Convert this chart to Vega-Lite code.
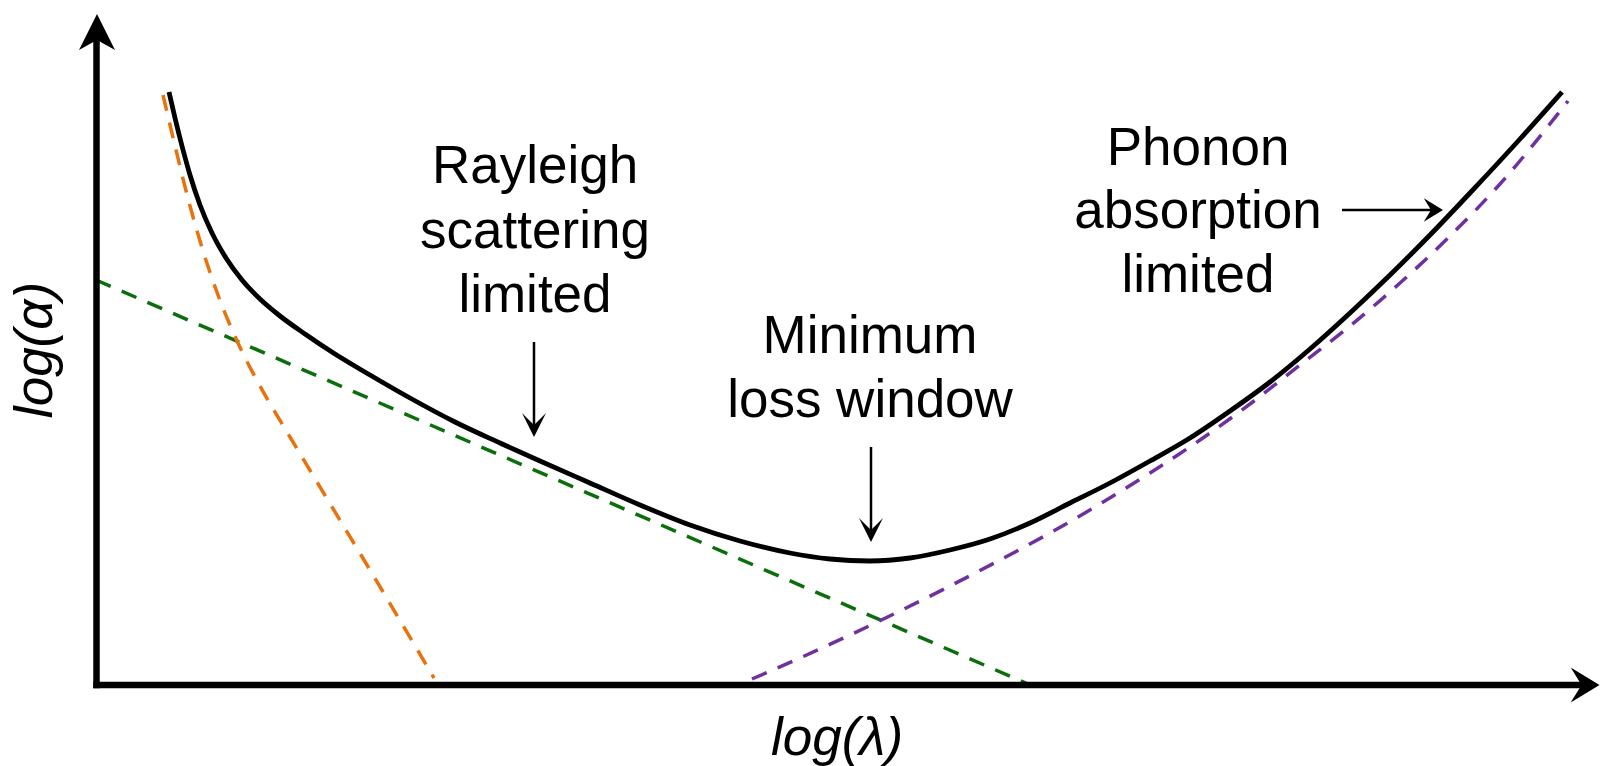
{
  "$schema": "https://vega.github.io/schema/vega-lite/v6.json",
  "width": 1600,
  "height": 766,
  "autosize": {"type": "none"},
  "padding": 0,
  "background": "white",
  "config": {"view": {"stroke": null}},
  "datasets": {
    "green": [{"x": 96, "y": 486}, {"x": 1028, "y": 82}],
    "orange": [
      {"x": 163, "y": 671}, {"x": 176, "y": 616}, {"x": 190, "y": 560}, {"x": 204, "y": 512},
      {"x": 218, "y": 471}, {"x": 238, "y": 423}, {"x": 260, "y": 380}, {"x": 290, "y": 329},
      {"x": 323, "y": 274}, {"x": 373, "y": 191}, {"x": 434, "y": 88}
    ],
    "purple": [
      {"x": 752, "y": 87}, {"x": 800, "y": 108}, {"x": 850, "y": 131}, {"x": 900, "y": 155},
      {"x": 950, "y": 180}, {"x": 1000, "y": 206}, {"x": 1050, "y": 233}, {"x": 1100, "y": 262},
      {"x": 1150, "y": 293}, {"x": 1200, "y": 326}, {"x": 1250, "y": 362}, {"x": 1300, "y": 401},
      {"x": 1350, "y": 440}, {"x": 1400, "y": 483}, {"x": 1450, "y": 530}, {"x": 1500, "y": 582},
      {"x": 1568, "y": 665}
    ],
    "total": [
      {"x": 169, "y": 674}, {"x": 175, "y": 648}, {"x": 182, "y": 620}, {"x": 190, "y": 591},
      {"x": 200, "y": 561}, {"x": 212, "y": 533}, {"x": 226, "y": 508}, {"x": 242, "y": 486},
      {"x": 260, "y": 467}, {"x": 280, "y": 450}, {"x": 305, "y": 432}, {"x": 335, "y": 412},
      {"x": 370, "y": 391}, {"x": 410, "y": 368}, {"x": 455, "y": 344}, {"x": 500, "y": 323},
      {"x": 540, "y": 305}, {"x": 590, "y": 283}, {"x": 640, "y": 261}, {"x": 690, "y": 241},
      {"x": 740, "y": 225}, {"x": 790, "y": 213}, {"x": 830, "y": 207}, {"x": 870, "y": 205},
      {"x": 910, "y": 208}, {"x": 950, "y": 216}, {"x": 990, "y": 227}, {"x": 1030, "y": 243},
      {"x": 1070, "y": 263}, {"x": 1110, "y": 283}, {"x": 1150, "y": 305}, {"x": 1190, "y": 328},
      {"x": 1230, "y": 355}, {"x": 1270, "y": 384}, {"x": 1310, "y": 417}, {"x": 1350, "y": 453},
      {"x": 1390, "y": 491}, {"x": 1430, "y": 531}, {"x": 1470, "y": 573}, {"x": 1520, "y": 627},
      {"x": 1562, "y": 674}
    ],
    "axes": [
      {"x": 96.5, "y": 81, "x2": 96.5, "y2": 728},
      {"x": 96.5, "y": 81, "x2": 1580, "y2": 81}
    ],
    "axisHeads": [
      {"x": 97, "y": 734, "dir": "up"},
      {"x": 1581.5, "y": 81, "dir": "right"}
    ],
    "pointers": [
      {"x": 534, "y": 424, "x2": 534, "y2": 340},
      {"x": 871, "y": 319, "x2": 871, "y2": 235},
      {"x": 1342, "y": 556, "x2": 1432, "y2": 556}
    ],
    "pointerHeads": [
      {"x": 534, "y": 341, "dir": "down"},
      {"x": 871, "y": 236, "dir": "down"},
      {"x": 1431, "y": 556, "dir": "right"}
    ],
    "labels": [
      {"x": 535, "y": 583, "text": "Rayleigh"},
      {"x": 535, "y": 518, "text": "scattering"},
      {"x": 535, "y": 454, "text": "limited"},
      {"x": 870, "y": 413, "text": "Minimum"},
      {"x": 870, "y": 349, "text": "loss window"},
      {"x": 1198, "y": 601, "text": "Phonon"},
      {"x": 1198, "y": 538, "text": "absorption"},
      {"x": 1198, "y": 474, "text": "limited"}
    ],
    "xTitle": [{"x": 837, "y": 11, "text": "log(λ)"}],
    "yTitle": [{"x": 52, "y": 416, "text": "log(α)"}]
  },
  "layer": [
    {
      "data": {"name": "green"},
      "mark": {"type": "line", "color": "#0A6E0A", "strokeWidth": 3.5, "strokeDash": [16, 12]},
      "encoding": {
        "x": {"field": "x", "type": "quantitative", "scale": {"domain": [0, 1600], "nice": false, "zero": false}, "axis": null},
        "y": {"field": "y", "type": "quantitative", "scale": {"domain": [0, 766], "nice": false, "zero": false}, "axis": null}
      }
    },
    {
      "data": {"name": "orange"},
      "mark": {"type": "line", "color": "#E8730E", "strokeWidth": 3.5, "strokeDash": [16, 12], "interpolate": "monotone"},
      "encoding": {
        "x": {"field": "x", "type": "quantitative"},
        "y": {"field": "y", "type": "quantitative"}
      }
    },
    {
      "data": {"name": "purple"},
      "mark": {"type": "line", "color": "#7030A0", "strokeWidth": 3.5, "strokeDash": [16, 12], "interpolate": "monotone"},
      "encoding": {
        "x": {"field": "x", "type": "quantitative"},
        "y": {"field": "y", "type": "quantitative"}
      }
    },
    {
      "data": {"name": "total"},
      "mark": {"type": "line", "color": "#000000", "strokeWidth": 4.8, "interpolate": "monotone"},
      "encoding": {
        "x": {"field": "x", "type": "quantitative"},
        "y": {"field": "y", "type": "quantitative"}
      }
    },
    {
      "data": {"name": "axes"},
      "mark": {"type": "rule", "color": "#000000", "strokeWidth": 6.5, "strokeCap": "square"},
      "encoding": {
        "x": {"field": "x", "type": "quantitative"},
        "y": {"field": "y", "type": "quantitative"},
        "x2": {"field": "x2"},
        "y2": {"field": "y2"}
      }
    },
    {
      "data": {"name": "axisHeads"},
      "mark": {"type": "point", "filled": true, "color": "#000000", "opacity": 1, "size": 1296, "strokeWidth": 0},
      "encoding": {
        "x": {"field": "x", "type": "quantitative"},
        "y": {"field": "y", "type": "quantitative"},
        "shape": {"field": "dir", "type": "nominal", "legend": null,
          "scale": {"domain": ["up", "right", "down"], "range": ["M0,-1L1,1L0,0.44L-1,1Z", "M1,0L-0.6,0.97L0,0L-0.6,-0.97Z", "M0,1L-1,-1L0,0L1,-1Z"]}}
      }
    },
    {
      "data": {"name": "pointers"},
      "mark": {"type": "rule", "color": "#000000", "strokeWidth": 2.5},
      "encoding": {
        "x": {"field": "x", "type": "quantitative"},
        "y": {"field": "y", "type": "quantitative"},
        "x2": {"field": "x2"},
        "y2": {"field": "y2"}
      }
    },
    {
      "data": {"name": "pointerHeads"},
      "mark": {"type": "point", "filled": true, "color": "#000000", "opacity": 1, "size": 576, "strokeWidth": 0},
      "encoding": {
        "x": {"field": "x", "type": "quantitative"},
        "y": {"field": "y", "type": "quantitative"},
        "shape": {"field": "dir", "type": "nominal", "legend": null,
          "scale": {"domain": ["down", "right"], "range": ["M0,1L-1,-1L0,0L1,-1Z", "M1,0L-1,1L0,0L-1,-1Z"]}}
      }
    },
    {
      "data": {"name": "labels"},
      "mark": {"type": "text", "font": "Liberation Sans", "fontSize": 53, "align": "center", "baseline": "alphabetic", "color": "#000000"},
      "encoding": {
        "x": {"field": "x", "type": "quantitative"},
        "y": {"field": "y", "type": "quantitative"},
        "text": {"field": "text"}
      }
    },
    {
      "data": {"name": "xTitle"},
      "mark": {"type": "text", "font": "Liberation Sans", "fontSize": 53, "fontStyle": "italic", "align": "center", "baseline": "alphabetic", "color": "#000000"},
      "encoding": {
        "x": {"field": "x", "type": "quantitative"},
        "y": {"field": "y", "type": "quantitative"},
        "text": {"field": "text"}
      }
    },
    {
      "data": {"name": "yTitle"},
      "mark": {"type": "text", "font": "Liberation Sans", "fontSize": 53, "fontStyle": "italic", "align": "center", "baseline": "alphabetic", "angle": 270, "color": "#000000"},
      "encoding": {
        "x": {"field": "x", "type": "quantitative"},
        "y": {"field": "y", "type": "quantitative"},
        "text": {"field": "text"}
      }
    }
  ]
}
